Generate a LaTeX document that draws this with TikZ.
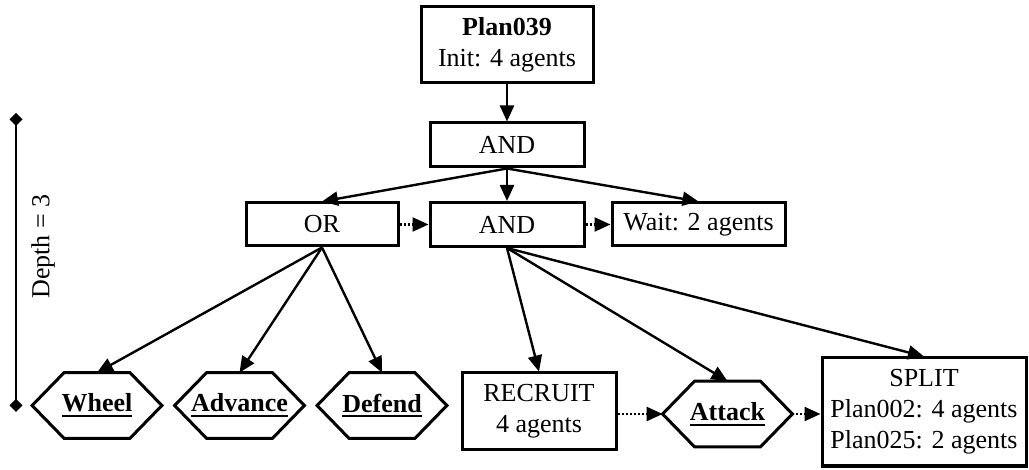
\documentclass[tikz,border=0pt]{standalone}
\usepackage{fontspec}
\setmainfont{Liberation Serif}
\usetikzlibrary{arrows.meta}
\newcommand{\actname}[1]{\textbf{\setbox0\hbox{#1}\rlap{\rule[-2.6pt]{\wd0}{1pt}}\box0}}

\begin{document}
\begin{tikzpicture}[x=0.5pt,y=-0.5pt,
  every node/.style={font=\fontsize{13}{15.5}\selectfont, inner sep=0pt},
  box/.style={draw, line width=1.5pt, align=center},
  act/.style={minimum width=64.5pt, minimum height=32.5pt},
  link/.style={line width=1.2pt, -{Triangle[length=8pt,width=7pt]}},
  follow/.style={link, dash pattern=on 1pt off 1pt}]
\useasboundingbox (0,0) rectangle (1029,470);

% plan tree
\node[box, minimum width=86pt, minimum height=38pt] (plan) at (507,45)
  {\textbf{Plan039}\\Init: 4 agents};
\node[box, minimum width=77pt, minimum height=22pt] (andtop) at (507,145) {AND};
\node[box, minimum width=76pt, minimum height=21.5pt] (or) at (322,224.5) {OR};
\node[box, minimum width=77pt, minimum height=22pt] (andmid) at (507,224.5) {AND};
\node[box, minimum width=86.5pt, minimum height=21.5pt] (wait) at (698.5,224.5) {Wait: 2 agents};

% leaves
\node[act] (wheel) at (97,405.5) {\actname{Wheel}};
\node[act] (advance) at (239.5,405.5) {\actname{Advance}};
\node[act] (defend) at (382,405.5) {\actname{Defend}};
\node[box, minimum width=77pt, minimum height=38.5pt] (recruit) at (539,411.5)
  {RECRUIT\\4 agents};
\node[act] (attack) at (727.5,414) {\actname{Attack}};
\node[box, minimum width=102pt, minimum height=54pt] (split) at (924,412)
  {SPLIT\\Plan002: 4 agents\\Plan025: 2 agents};

\foreach \n in {wheel,advance,defend,attack}
  \draw[line width=1.5pt] (\n.west) -- ([xshift=16pt]\n.north west)
    -- ([xshift=-16pt]\n.north east) -- (\n.east)
    -- ([xshift=-16pt]\n.south east) -- ([xshift=16pt]\n.south west) -- cycle;

% edges
\draw[link] (plan) -- (andtop);
\draw[link] (andtop.south) -- (or.north);
\draw[link] (andtop.south) -- (andmid.north);
\draw[link] (andtop.south) -- (wait.north);
\foreach \n in {wheel,advance,defend}
  \draw[link] (or.south) -- (\n.north);
\foreach \n in {recruit,attack,split}
  \draw[link] (andmid.south) -- (\n.north);

\draw[follow] (or) -- (andmid);
\draw[follow] (andmid) -- (wait);
\draw[follow] (attack.west -| recruit.east) -- (attack.west);
\draw[follow] (attack.east) -- (attack.east -| split.west);

% depth marker
\coordinate (dtop) at (16,113);
\coordinate (dbot) at (16,412);
\draw[line width=1.2pt, {Diamond[length=6.5pt,width=6.5pt]}-{Diamond[length=6.5pt,width=6.5pt]}]
  (dtop) -- (dbot);
\node[rotate=90] (depth) at (43,246.5) {Depth = 3};
\end{tikzpicture}
\end{document}
